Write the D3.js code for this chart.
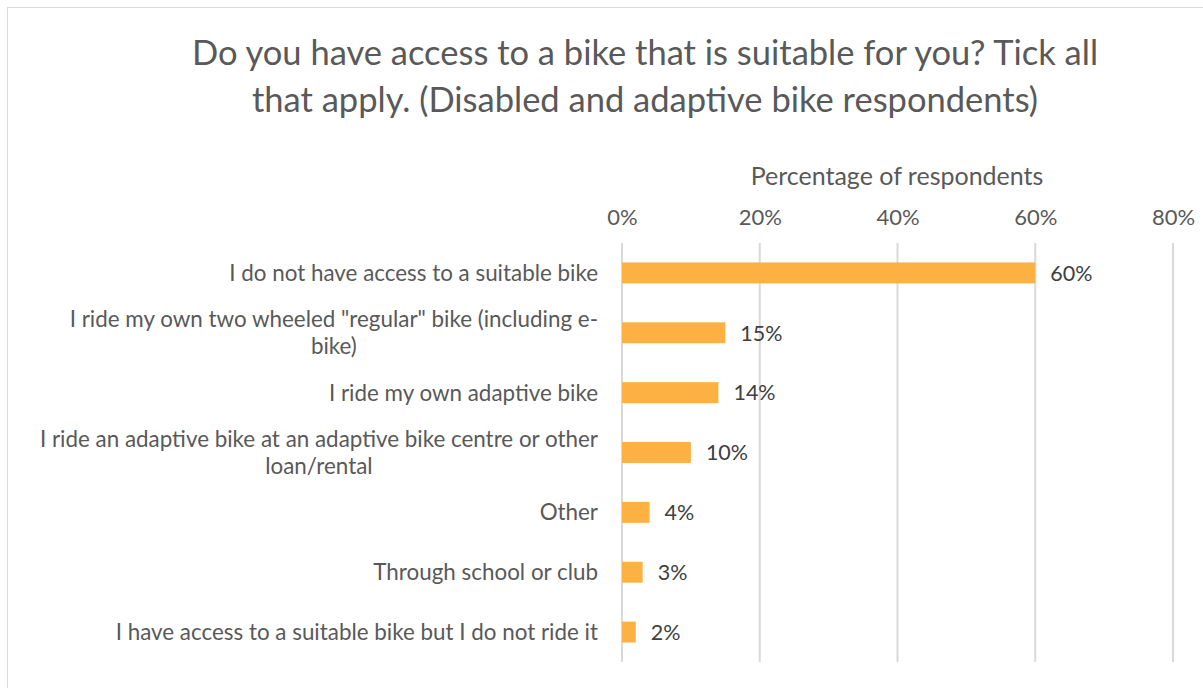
<!DOCTYPE html>
<html>
<head>
<meta charset="utf-8">
<script src="https://cdn.jsdelivr.net/npm/d3@7"></script>
<style>
  html, body { margin: 0; padding: 0; background: #fff; }
  svg { display: block; font-family: Lato, "Open Sans", sans-serif; }
</style>
</head>
<body>
<svg id="chart" width="1203" height="688"></svg>
<script>
// Survey answers, top to bottom
const categories = [
  "I do not have access to a suitable bike",
  "I ride my own two wheeled \"regular\" bike (including e-bike)",
  "I ride my own adaptive bike",
  "I ride an adaptive bike at an adaptive bike centre or other loan/rental",
  "Other",
  "Through school or club",
  "I have access to a suitable bike but I do not ride it"
];
// Share of respondents (%)
const values = [60, 15, 14, 10, 4, 3, 2];
const tickValues = [0, 20, 40, 60, 80];
const titleLines = [
  "Do you have access to a bike that is suitable for you? Tick all",
  "that apply. (Disabled and adaptive bike respondents)"
];
const axisTitle = "Percentage of respondents";

const svg = d3.select("#chart");
const W = 1203, H = 688;
const margin = { left: 622, right: 30, top: 243, bottom: 26 };

// chart frame
svg.append("rect")
  .attr("x", 7.5).attr("y", 7.5)
  .attr("width", W).attr("height", H)
  .attr("fill", "none").attr("stroke", "#d9d9d9").attr("stroke-width", 1);

// title
svg.append("text")
  .attr("text-anchor", "middle")
  .attr("fill", "#595959")
  .style("font-size", "34.5px")
  .selectAll("tspan").data(titleLines).join("tspan")
  .attr("x", 645)
  .attr("y", (d, i) => 65 + i * 47)
  .text(d => d);

const x = d3.scaleLinear().domain([0, 80]).range([margin.left, 1173]);
const y = d3.scaleBand().domain(categories)
  .range([margin.top, 662]).paddingInner(0.65).paddingOuter(0.325);

// vertical gridlines
svg.append("g").selectAll("line").data(tickValues).join("line")
  .attr("x1", d => x(d)).attr("x2", d => x(d))
  .attr("y1", margin.top).attr("y2", 662)
  .attr("stroke", "#d9d9d9").attr("stroke-width", 2);

// top axis labels
const axis = d3.axisTop(x).tickValues(tickValues).tickFormat(d => d + "%").tickSize(0).tickPadding(0);
const gAxis = svg.append("g").attr("transform", "translate(0,225)").call(axis);
gAxis.select(".domain").remove();
gAxis.selectAll("text")
  .attr("fill", "#595959")
  .style("font-size", "22px")
  .style("font-family", "Lato, 'Open Sans', sans-serif")
  .attr("dy", 0);

// axis title
svg.append("text")
  .attr("x", 897).attr("y", 185)
  .attr("text-anchor", "middle")
  .attr("fill", "#595959")
  .style("font-size", "25px")
  .text(axisTitle);

// bars
svg.append("g").selectAll("rect").data(values).join("rect")
  .attr("x", x(0))
  .attr("y", (d, i) => y(categories[i]))
  .attr("width", d => x(d) - x(0))
  .attr("height", y.bandwidth())
  .attr("fill", "#fdb143");

// value labels
svg.append("g").selectAll("text").data(values).join("text")
  .attr("x", d => x(d) + 15)
  .attr("y", (d, i) => y(categories[i]) + y.bandwidth() / 2)
  .attr("dy", "0.36em")
  .attr("fill", "#404040")
  .style("font-size", "21.5px")
  .text(d => d + "%");

// category labels, wrapped to the space left of the axis
const maxLabelWidth = 565;
const lineH = 27;
const labels = svg.append("g").selectAll("text").data(categories).join("text")
  .attr("text-anchor", "middle")
  .attr("fill", "#595959")
  .style("font-size", "22.4px");

labels.each(function (d) {
  const t = d3.select(this);
  // break points: after spaces and after hyphens
  const pieces = d.match(/[^\s-]+-|[^\s-]+\s*|\s+/g);
  const probe = t.append("tspan");
  const measure = s => { probe.text(s.trim()); return probe.node().getComputedTextLength(); };
  const lines = [];
  let cur = "";
  pieces.forEach(p => {
    if (cur && measure(cur + p) > maxLabelWidth) {
      lines.push(cur.trim());
      cur = p;
    } else {
      cur += p;
    }
  });
  lines.push(cur.trim());
  const widths = lines.map(measure);
  probe.remove();

  const cy = y(d) + y.bandwidth() / 2;
  const cx = 598 - d3.max(widths) / 2;
  const y0 = cy - (lines.length - 1) * lineH / 2;
  t.selectAll("tspan").data(lines).join("tspan")
    .attr("x", cx)
    .attr("y", (l, k) => y0 + k * lineH)
    .attr("dy", "0.36em")
    .text(l => l);
});
</script>
</body>
</html>
